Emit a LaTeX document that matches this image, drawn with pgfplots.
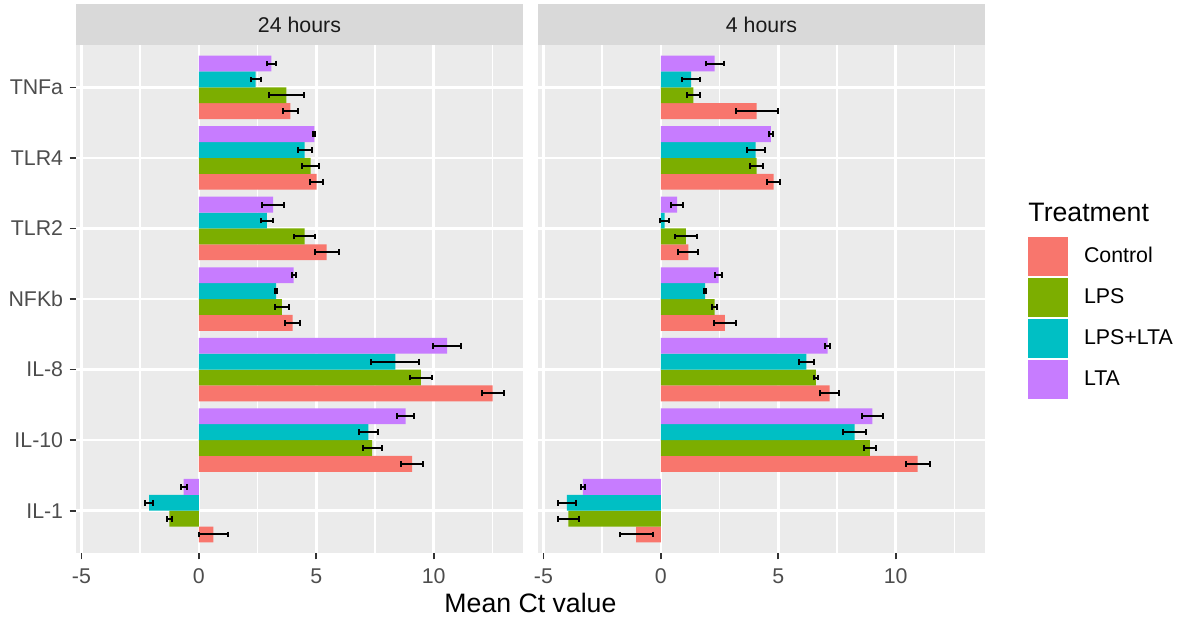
\documentclass[border=0pt]{standalone}
\usepackage{fontspec}
\setmainfont{Liberation Sans}
\usepackage{pgfplots}
\pgfplotsset{compat=1.18}
\definecolor{cCtrl}{HTML}{F8766D}
\definecolor{cLPS}{HTML}{7CAE00}
\definecolor{cLL}{HTML}{00BFC4}
\definecolor{cLTA}{HTML}{C77CFF}
\definecolor{panelbg}{HTML}{EBEBEB}
\definecolor{stripbg}{HTML}{D9D9D9}
\definecolor{gray30}{HTML}{4D4D4D}
\definecolor{gray20}{HTML}{333333}
\definecolor{gray10}{HTML}{1A1A1A}
\pgfplotsset{
  every axis title/.style={at={(0.5,1)}, anchor=south, fill=stripbg,
      minimum width=201.15pt, minimum height=18.45pt, inner sep=0pt, outer sep=0pt,
      text=gray10, font=\fontsize{9.6}{11}\selectfont},
  facet/.style={
    scale only axis, width=201.15pt, height=228.6pt,
    xmin=-5.23, xmax=13.8, ymin=0.4, ymax=7.6,
    axis background/.style={fill=panelbg},
    axis line style={draw=none},
    xtick={-5,0,5,10}, xticklabels={-5,0,5,10},
    minor xtick={-2.5,2.5,7.5,12.5},
    ytick={1,2,3,4,5,6,7},
    tick align=outside, major tick length=2.9pt, minor tick length=0pt,
    tick style={gray20, line width=0.75pt},
    xtick pos=left, ytick pos=left,
    grid=both,
    major grid style={white, line width=1.2pt},
    minor grid style={white, line width=0.6pt},
    ticklabel style={font=\fontsize{9.6}{11}\selectfont, text=gray30},
    xticklabel style={anchor=north, inner sep=0pt, yshift=-4pt},
    yticklabel style={anchor=east, inner sep=0pt, xshift=-2.7pt},
    xbar, bar width=0.225,
  },
  eb/.style={error bars/.cd, x dir=both, x explicit,
    error bar style={black, line width=0.9pt},
    error mark options={black, line width=0.9pt, mark size=1.3pt, rotate=90}, /pgfplots/.cd},
  keyimg/.style={legend image code/.code={\fill[##1] (0pt,-8.775pt) rectangle (18pt,8.775pt);}},
}
\begin{document}
\begin{tikzpicture}
\useasboundingbox (0,0) rectangle (533.25pt,-279pt);
% ---------- 24 hours ----------
\begin{axis}[facet, at={(34.2pt,-248.85pt)}, anchor=south west,
  title={24 hours},
  yticklabels={IL-1,IL-10,IL-8,NFKb,TLR2,TLR4,TNFa}]
\addplot[fill=cCtrl, draw=none, bar shift=-0.3375, eb] coordinates {
 (0.62,1) +- (0.63,0) (9.08,2) +- (0.46,0) (12.51,3) +- (0.46,0) (3.99,4) +- (0.31,0)
 (5.44,5) +- (0.51,0) (5.01,6) +- (0.26,0) (3.90,7) +- (0.30,0)};
\addplot[fill=cLPS, draw=none, bar shift=-0.1125, eb] coordinates {
 (-1.25,1) +- (0.11,0) (7.38,2) +- (0.41,0) (9.45,3) +- (0.47,0) (3.54,4) +- (0.31,0)
 (4.50,5) +- (0.46,0) (4.76,6) +- (0.36,0) (3.73,7) +- (0.73,0)};
\addplot[fill=cLL, draw=none, bar shift=0.1125, eb] coordinates {
 (-2.12,1) +- (0.17,0) (7.22,2) +- (0.42,0) (8.37,3) +- (1.02,0) (3.29,4) +- (0.05,0)
 (2.90,5) +- (0.25,0) (4.50,6) +- (0.30,0) (2.42,7) +- (0.21,0)};
\addplot[fill=cLTA, draw=none, bar shift=0.3375, eb] coordinates {
 (-0.65,1) +- (0.13,0) (8.80,2) +- (0.37,0) (10.57,3) +- (0.60,0) (4.04,4) +- (0.08,0)
 (3.16,5) +- (0.47,0) (4.92,6) +- (0.04,0) (3.09,7) +- (0.20,0)};
\end{axis}
% ---------- 4 hours ----------
\begin{axis}[facet, at={(242.1pt,-248.85pt)}, anchor=south west,
  title={4 hours},
  yticklabels={}, ytick style={draw=none},
  legend style={at={(1.0962,0.62205)}, anchor=north west, draw=none, fill=none,
    inner sep=0pt, outer sep=0pt, row sep=0.9pt, column sep=7.2pt,
    font=\fontsize{9.6}{11}\selectfont, nodes={inner sep=0pt, text=black}},
  legend cell align=left]
\addplot[fill=cCtrl, draw=none, bar shift=-0.3375, keyimg, eb] coordinates {
 (-1.05,1) +- (0.70,0) (10.93,2) +- (0.51,0) (7.19,3) +- (0.40,0) (2.73,4) +- (0.46,0)
 (1.17,5) +- (0.42,0) (4.80,6) +- (0.29,0) (4.08,7) +- (0.89,0)};
\addlegendentry{Control}
\addplot[fill=cLPS, draw=none, bar shift=-0.1125, keyimg, eb] coordinates {
 (-3.94,1) +- (0.45,0) (8.90,2) +- (0.26,0) (6.60,3) +- (0.08,0) (2.29,4) +- (0.10,0)
 (1.07,5) +- (0.48,0) (4.08,6) +- (0.28,0) (1.38,7) +- (0.28,0)};
\addlegendentry{LPS}
\addplot[fill=cLL, draw=none, bar shift=0.1125, keyimg, eb] coordinates {
 (-4.00,1) +- (0.37,0) (8.25,2) +- (0.48,0) (6.20,3) +- (0.32,0) (1.88,4) +- (0.05,0)
 (0.16,5) +- (0.20,0) (4.04,6) +- (0.39,0) (1.29,7) +- (0.38,0)};
\addlegendentry{LPS+LTA}
\addplot[fill=cLTA, draw=none, bar shift=0.3375, keyimg, eb] coordinates {
 (-3.32,1) +- (0.10,0) (9.00,2) +- (0.44,0) (7.10,3) +- (0.10,0) (2.46,4) +- (0.15,0)
 (0.69,5) +- (0.25,0) (4.68,6) +- (0.09,0) (2.29,7) +- (0.38,0)};
\addlegendentry{LTA}
\end{axis}
\node[anchor=base, inner sep=0pt, font=\fontsize{12}{14}\selectfont] at (238.7pt,-275.4pt) {Mean Ct value};
\node[anchor=west, inner sep=0pt, font=\fontsize{12}{14}\selectfont] at (462.6pt,-95.4pt) {Treatment};
\end{tikzpicture}
\end{document}
